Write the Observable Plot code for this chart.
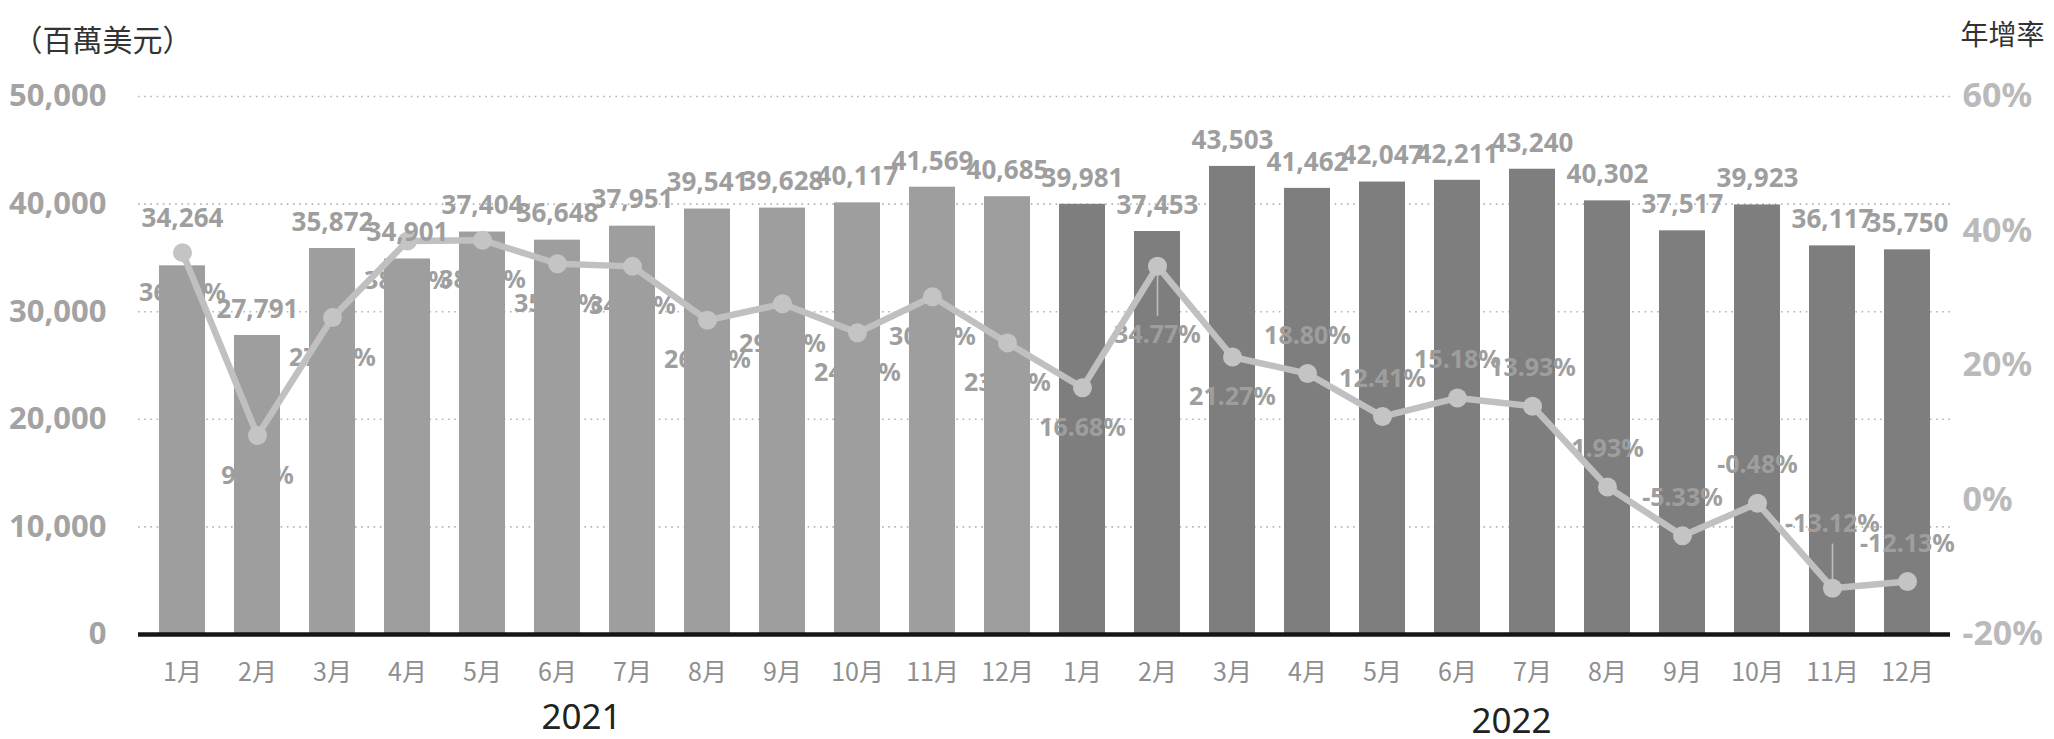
<!DOCTYPE html>
<html>
<head>
<meta charset="utf-8">
<script src="https://cdn.jsdelivr.net/npm/d3@7"></script>
<script src="https://cdn.jsdelivr.net/npm/@observablehq/plot@0.6"></script>
<style>
  html, body { margin: 0; padding: 0; background: #fff; }
  #chart svg { display: block; }
</style>
</head>
<body>
<div id="chart"></div>
<script>
// ---------------- data ----------------
const years = ["2021", "2022"];
const months = ["1月","2月","3月","4月","5月","6月","7月","8月","9月","10月","11月","12月"];
const exports2021 = [34264, 27791, 35872, 34901, 37404, 36648, 37951, 39541, 39628, 40117, 41569, 40685];
const exports2022 = [39981, 37453, 43503, 41462, 42047, 42211, 43240, 40302, 37517, 39923, 36117, 35750];
const growth2021 = [36.78, 9.58, 27.12, 38.51, 38.63, 35.13, 34.74, 26.72, 29.17, 24.86, 30.23, 23.36];
const growth2022 = [16.68, 34.77, 21.27, 18.80, 12.41, 15.18, 13.93, 1.93, -5.33, -0.48, -13.12, -12.13];
// label placement keywords (like a spreadsheet's data-label position)
const growthPlace2021 = ["below","below","below","below","below","below","below","below","below","below","below","below"];
const growthPlace2022 = ["below","farBelow","below","above","above","above","above","above","above","above","farAbove","above"];
const valuePlace2021 = ["high","normal","normal","normal","normal","normal","normal","normal","normal","normal","normal","normal"];
const valuePlace2022 = ["normal","normal","normal","normal","normal","normal","normal","normal","normal","normal","normal","normal"];
const leftTicks = [0, 10000, 20000, 30000, 40000, 50000];
const rightTicks = [-20, 0, 20, 40, 60];
const unitLeft = "（百萬美元）";
const unitRight = "年增率";

// ---------------- build table ----------------
const yDomain = [0, 50000];
const pDomain = [-20, 60];
const toY = p => (p - pDomain[0]) / (pDomain[1] - pDomain[0]) * (yDomain[1] - yDomain[0]) + yDomain[0];
const fromY = v => (v - yDomain[0]) / (yDomain[1] - yDomain[0]) * (pDomain[1] - pDomain[0]) + pDomain[0];

const series = {
  "2021": {v: exports2021, g: growth2021, gp: growthPlace2021, vp: valuePlace2021},
  "2022": {v: exports2022, g: growth2022, gp: growthPlace2022, vp: valuePlace2022}
};
const rows = [];
years.forEach(yr => {
  months.forEach((m, i) => {
    const s = series[yr];
    rows.push({key: yr + "-" + (i + 1), year: yr, month: m, value: s.v[i], growth: s.g[i],
               gy: toY(s.g[i]), gPlace: s.gp[i], vPlace: s.vp[i]});
  });
});
const keyToMonth = new Map(rows.map(d => [d.key, d.month]));

// ---------------- fonts ----------------
const noto = "Noto Sans, DejaVu Sans, sans-serif";
const cjkFont = "Noto Sans CJK TC, Noto Sans, sans-serif";

// ---------------- layout ----------------
const W = 2054, H = 739;
const M = {top: 96, right: 104, bottom: 105, left: 138};
const plotH = H - M.top - M.bottom;
const pxToData = (yDomain[1] - yDomain[0]) / plotH;
const gOffset = {below: 40, above: -38, farBelow: 69, farAbove: -64};

const leaders = [];
rows.filter(d => d.gPlace.startsWith("far")).forEach(d => {
  const off = gOffset[d.gPlace];
  const len = off > 0 ? off - 20 : off + 20;
  leaders.push({id: d.key, key: d.key, y: d.gy});
  leaders.push({id: d.key, key: d.key, y: d.gy - len * pxToData});
});

const fmt = d3.format(",");
const pctFmt = d => d.toFixed(2) + "%";
const c2021 = "#9e9e9e", c2022 = "#7e7e7e", labelC = "#9e9e9e", lineC = "#c0c0c0";

const marks = [
  Plot.gridY(leftTicks.filter(t => t > 0), {stroke: "#b4b4b4", strokeOpacity: 1, strokeWidth: 1.6, strokeDasharray: "1.6,4.6"}),
  Plot.barY(rows.filter(d => d.year === "2021"), {x: "key", y: "value", fill: c2021}),
  Plot.barY(rows.filter(d => d.year === "2022"), {x: "key", y: "value", fill: c2022}),
  Plot.ruleY([0], {stroke: "#161616", strokeWidth: 4.5}),
];
// growth labels (drawn under the line)
Object.entries(gOffset).forEach(([place, off]) => {
  marks.push(Plot.text(rows.filter(d => d.gPlace === place), {
    x: "key", y: "gy", text: d => pctFmt(d.growth), dy: off,
    fill: labelC, fontSize: 25, fontWeight: "bold", fontFamily: noto
  }));
});
marks.push(
  Plot.line(leaders, {x: "key", y: "y", z: "id", stroke: "#bdbdbd", strokeWidth: 1.6}),
  Plot.line(rows, {x: "key", y: "gy", stroke: lineC, strokeWidth: 6.5, strokeLinejoin: "round"}),
  Plot.dot(rows, {x: "key", y: "gy", r: 9.5, fill: "#c4c4c4", stroke: "none"}),
);
// bar value labels
const vOffset = {normal: -26, high: -47};
Object.entries(vOffset).forEach(([place, off]) => {
  marks.push(Plot.text(rows.filter(d => d.vPlace === place), {
    x: "key", y: "value", text: d => fmt(d.value), dy: off,
    fill: labelC, fontSize: 26, fontWeight: "bold", fontFamily: noto
  }));
});
// axes
marks.push(
  Plot.axisX({tickSize: 0, tickPadding: 29, tickFormat: k => keyToMonth.get(k), fontSize: 25,
              fill: "#8e8e8e", fontFamily: cjkFont, label: null}),
  Plot.axisY(leftTicks, {anchor: "left", tickSize: 0, tickPadding: 32, tickFormat: fmt, fontSize: 31,
              fontWeight: "bold", fill: "#a3a3a3", fontFamily: noto, label: null}),
  Plot.axisY(rightTicks.map(toY), {anchor: "right", tickSize: 0, tickPadding: 12,
              tickFormat: v => Math.round(fromY(v)) + "%", fontSize: 34, fontWeight: "bold",
              fill: "#bababa", fontFamily: noto, label: null}),
  // unit captions
  Plot.text([unitLeft], {frameAnchor: "top-left", textAnchor: "start", dx: -126, dy: -67,
              fontSize: 30, fill: "#333", fontFamily: cjkFont}),
  Plot.text([unitRight], {frameAnchor: "top-right", textAnchor: "end", dx: 94, dy: -71,
              fontSize: 28, fill: "#333", fontFamily: cjkFont}),
  // year captions
  Plot.text([{key: "2021-6", t: years[0]}], {x: "key", text: "t", frameAnchor: "bottom", dx: 24, dy: 94,
              fontSize: 35, fill: "#222", fontFamily: noto}),
  Plot.text([{key: "2022-7", t: years[1]}], {x: "key", text: "t", frameAnchor: "bottom", dx: -21, dy: 98,
              fontSize: 35, fill: "#222", fontFamily: noto})
);

const chart = Plot.plot({
  width: W, height: H,
  marginTop: M.top, marginRight: M.right, marginBottom: M.bottom, marginLeft: M.left,
  style: {background: "#fff", fontFamily: noto, overflow: "visible"},
  x: {type: "band", domain: rows.map(d => d.key), paddingInner: 0.39, paddingOuter: 0.2, axis: null},
  y: {domain: yDomain, axis: null},
  marks
});
document.getElementById("chart").appendChild(chart);
</script>
</body>
</html>
